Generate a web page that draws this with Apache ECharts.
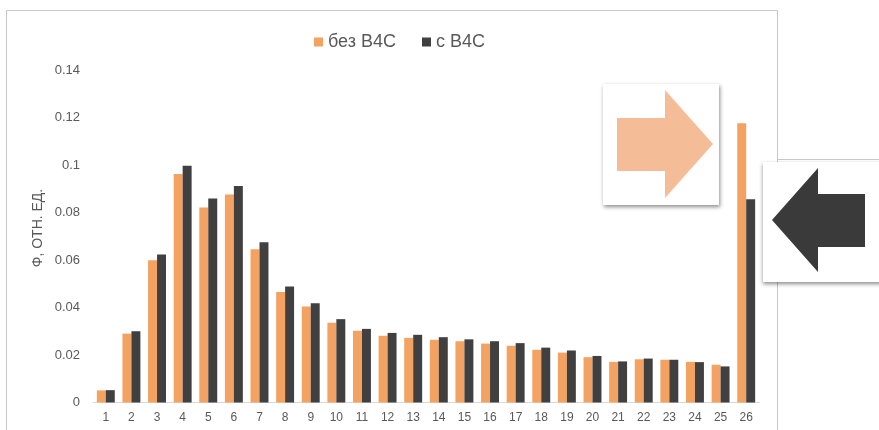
<!DOCTYPE html>
<html>
<head>
<meta charset="utf-8">
<script src="https://cdn.jsdelivr.net/npm/echarts@6/dist/echarts.min.js"></script>
<style>
html,body{margin:0;padding:0;background:#fff;}
#chart{width:879px;height:430px;}
</style>
</head>
<body>
<div id="chart"></div>
<script>
const categories = ['1','2','3','4','5','6','7','8','9','10','11','12','13','14','15','16','17','18','19','20','21','22','23','24','25','26'];
const seriesNames = ['без B4C', 'с B4C'];
const withoutB4C = [0.0051,0.029,0.0599,0.0962,0.0821,0.0876,0.0645,0.0465,0.0404,0.0336,0.0302,0.0281,0.0272,0.0264,0.0258,0.0248,0.0239,0.0222,0.0210,0.0191,0.0171,0.0182,0.0180,0.0171,0.0159,0.1176];
const withB4C =    [0.0052,0.030,0.0623,0.0997,0.0859,0.0912,0.0675,0.0488,0.0418,0.0351,0.0310,0.0293,0.0285,0.0275,0.0266,0.0258,0.0250,0.0231,0.0219,0.0196,0.0173,0.0185,0.0180,0.0170,0.0152,0.0856];
const yTitle = 'Ф, ОТН. ЕД.';

const chart = echarts.init(document.getElementById('chart'), null, {renderer:'canvas'});
const txt = '#595959';
chart.setOption({
  backgroundColor:'#fff',
  animation:false,
  color:['#F4A261','#404040'],
  legend:{
    top:28, left:309, itemWidth:9, itemHeight:9, itemGap:26, icon:'rect',
    textStyle:{color:txt, fontSize:18, fontFamily:'Liberation Sans'},
    data:seriesNames
  },
  grid:{left:93, right:120, top:70, bottom:27.5},
  xAxis:{
    type:'category', data:categories,
    axisLine:{lineStyle:{color:'#d9d9d9'}},
    axisTick:{show:false},
    axisLabel:{color:txt, fontSize:12, fontFamily:'Liberation Sans', margin:9}
  },
  yAxis:{
    type:'value', min:0, max:0.14, interval:0.02,
    axisLine:{show:false}, axisTick:{show:false}, splitLine:{show:false},
    axisLabel:{color:txt, fontSize:13, fontFamily:'Liberation Sans', margin:13,
      formatter:function(v){return String(Math.round(v*100)/100);}}
  },
  series:[
    {name:seriesNames[0], type:'bar', data:withoutB4C, barGap:'0%', barCategoryGap:'30%'},
    {name:seriesNames[1], type:'bar', data:withB4C, barGap:'0%', barCategoryGap:'30%'}
  ],
  graphic:[
    {type:'rect', shape:{x:6.5, y:10.5, width:771, height:440}, style:{fill:'none', stroke:'#c8c8c8', lineWidth:1}, z:-1},
    {type:'text', x:38, y:228, rotation:Math.PI/2,
      style:{text:yTitle, fill:txt, fontSize:14, fontFamily:'Liberation Sans', align:'center', verticalAlign:'middle'}},
    {type:'line', shape:{x1:778, y1:159.5, x2:879, y2:159.5}, style:{stroke:'#c8c8c8', lineWidth:1}},
    {type:'rect', shape:{x:603, y:84, width:116, height:121},
      style:{fill:'#fff', shadowBlur:4, shadowOffsetX:1, shadowOffsetY:2, shadowColor:'rgba(0,0,0,0.45)'}, z:10},
    {type:'polygon', shape:{points:[[617,118],[665,118],[665,90],[713,144],[665,198],[665,171],[617,171]]},
      style:{fill:'#F5BC98'}, z:11},
    {type:'rect', shape:{x:763, y:162, width:130, height:120},
      style:{fill:'#fff', shadowBlur:4, shadowOffsetX:0, shadowOffsetY:2, shadowColor:'rgba(0,0,0,0.45)'}, z:10},
    {type:'polygon', shape:{points:[[772,220],[818,168],[818,194],[865,194],[865,247],[818,247],[818,272]]},
      style:{fill:'#3a3a3a'}, z:11}
  ]
});
</script>
</body>
</html>
